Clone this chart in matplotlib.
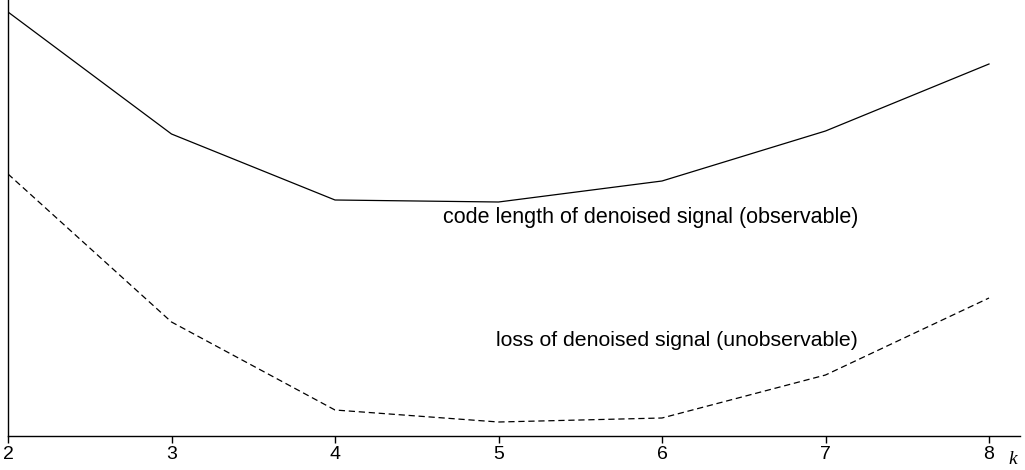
import matplotlib
matplotlib.use("Agg")
import matplotlib.pyplot as plt

k_values = [2, 3, 4, 5, 6, 7, 8]
code_length = [424, 302, 236, 234, 255, 305, 372]
loss = [262, 114, 26, 14, 18, 61, 138]
tick_labels = ["2", "3", "4", "5", "6", "7", "8"]

fig = plt.figure(figsize=(10.25, 4.70), dpi=100)
W, H = 1025, 470
ax = fig.add_axes([8 / W, (H - 436) / H, (1020 - 8) / W, 436 / H])
ax.plot(k_values, code_length, color="black", lw=0.9)
ax.plot(k_values, loss, color="black", lw=0.9, linestyle=(0, (5, 3)))
ax.set_xlim(2, 2 + (1020 - 8) / 163.5)
ax.set_ylim(0, 436)
ax.spines["top"].set_visible(False)
ax.spines["right"].set_visible(False)
for s in ("left", "bottom"):
    ax.spines[s].set_linewidth(1.0)
ax.set_yticks([])
ax.set_xticks(k_values)
ax.set_xticklabels(tick_labels, family="Liberation Sans", fontsize=14)
ax.tick_params(axis="x", direction="out", length=5, width=1, pad=2)
fig.text(443 / W, 1 - 218 / H, "code length of denoised signal (observable)",
         fontsize=15.5, family="Liberation Sans", va="center", ha="left")
fig.text(858 / W, 1 - 340 / H, "loss of denoised signal (unobservable)",
         fontsize=15.3, family="Liberation Sans", va="center", ha="right")
fig.text(1013 / W, 1 - 460 / H, "k", fontsize=14, family="Liberation Serif",
         style="italic", ha="center", va="center")
fig.savefig("out.png", dpi=100)
